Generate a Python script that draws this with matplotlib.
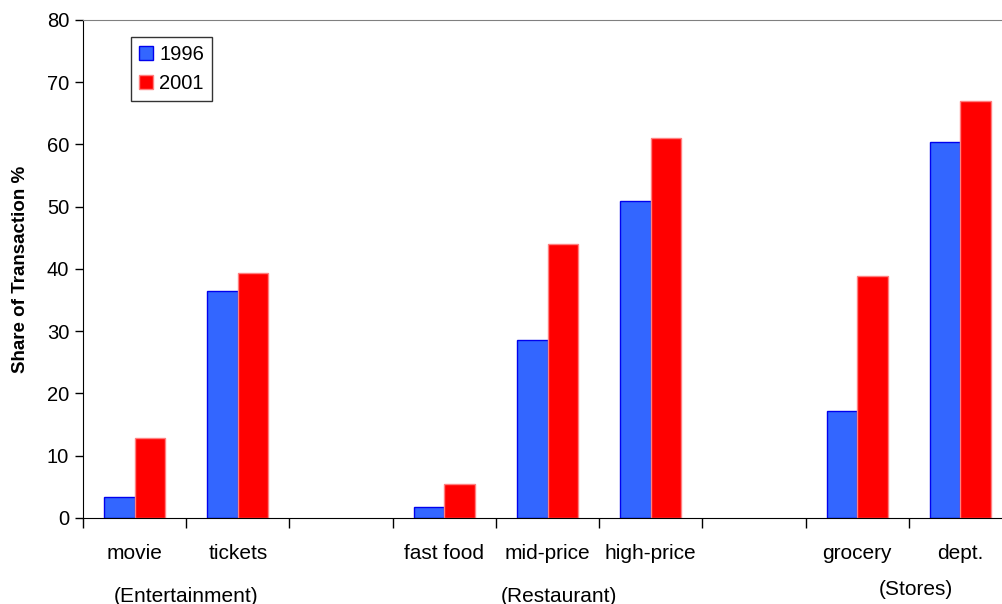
import numpy as np
import matplotlib.pyplot as plt

plt.rcParams['font.family'] = ['Liberation Sans', 'DejaVu Sans']

# Share of transactions by merchant type (blank slots separate the groups)
categories = ['movie', 'tickets', '', 'fast food', 'mid-price', 'high-price', '', 'grocery', 'dept.']
share_1996 = np.array([3.4, 36.5, np.nan, 1.8, 28.6, 50.9, np.nan, 17.2, 60.4])
share_2001 = np.array([12.9, 39.4, np.nan, 5.5, 44.0, 61.0, np.nan, 38.9, 67.0])
groups = ['(Entertainment)', '(Restaurant)', '(Stores)']
group_pos = [0.5, 4.11, 7.57]

x = np.arange(len(categories))
w = 0.295
has = ~np.isnan(share_1996)

fig = plt.figure(figsize=(10.03, 6.04), dpi=100)
ax = fig.add_axes([0.0828, 0.1424, 1.009 - 0.0828, 0.9669 - 0.1424])

ax.bar(x[has] - w / 2, share_1996[has], w, color='#3366FF', edgecolor='#0000EE', linewidth=1.0, label='1996')
ax.bar(x[has] + w / 2, share_2001[has], w, color='#FF0000', edgecolor='#FF8080', linewidth=1.0, label='2001')

ax.set_xlim(-0.5, len(categories) - 0.5)
ax.set_ylim(0, 80)
ax.set_yticks(range(0, 81, 10))
ax.tick_params(axis='y', labelsize=14.5, length=6, width=1, direction='out', pad=4)

# labels under each category, tick marks on the boundaries
ax.set_xticks(x)
ax.set_xticklabels(categories, fontsize=15)
ax.tick_params(axis='x', which='major', length=0, pad=19)
ax.set_xticks(np.arange(-0.5, len(categories), 1), minor=True)
ax.tick_params(axis='x', which='minor', length=7, width=1, direction='out')

for name, pos in zip(groups, group_pos):
    dy = -0.157 if name != '(Stores)' else -0.143
    ax.text(pos, dy, name, transform=ax.get_xaxis_transform(), ha='center', va='center', fontsize=15)

ax.set_ylabel('Share of Transaction %', fontsize=13.5, fontweight='bold', labelpad=13)

ax.spines['right'].set_visible(False)
ax.spines['top'].set_color('#808080')
ax.spines['left'].set_color('black')
ax.spines['bottom'].set_color('black')

leg = ax.legend(loc='upper left', bbox_to_anchor=(0.0515, 0.966), fontsize=14.5, frameon=True,
                fancybox=False, handlelength=0.7, handleheight=0.7, handletextpad=0.3,
                borderpad=0.4, labelspacing=0.5, borderaxespad=0)
leg.get_frame().set_edgecolor('black')
leg.get_frame().set_linewidth(1.0)

fig.savefig('out.png', dpi=100)
